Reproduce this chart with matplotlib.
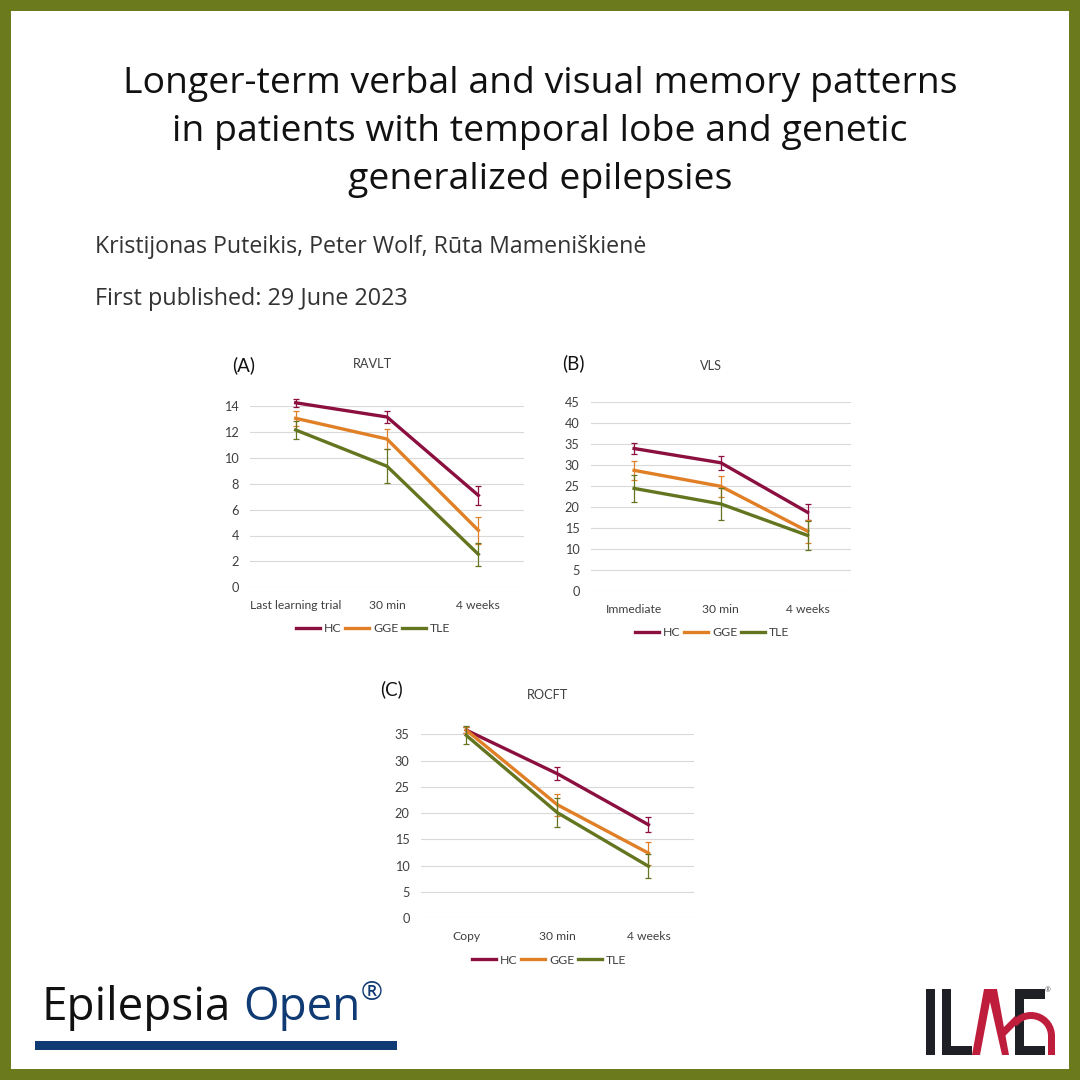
import matplotlib
matplotlib.use("Agg")
import matplotlib.pyplot as plt
from matplotlib.patches import Rectangle, Polygon, Wedge

# ---- data ----
series_names = ["HC", "GGE", "TLE"]
series_colors = ["#8B0F3F", "#E07F26", "#64751F"]

a_title = "RAVLT"
a_cats = ["Last learning trial", "30 min", "4 weeks"]
a_hc = [14.25, 13.15, 7.1]
a_gge = [13.05, 11.45, 4.4]
a_tle = [12.15, 9.35, 2.55]
a_hc_err = [0.3, 0.45, 0.72]
a_gge_err = [0.6, 0.8, 1.05]
a_tle_err = [0.7, 1.3, 0.9]
a_ticks = [0, 2, 4, 6, 8, 10, 12, 14]

b_title = "VLS"
b_cats = ["Immediate", "30 min", "4 weeks"]
b_hc = [34.0, 30.6, 18.8]
b_gge = [28.8, 25.0, 14.3]
b_tle = [24.5, 20.8, 13.3]
b_hc_err = [1.3, 1.7, 1.9]
b_gge_err = [2.2, 2.5, 2.7]
b_tle_err = [3.2, 3.9, 3.5]
b_ticks = [0, 5, 10, 15, 20, 25, 30, 35, 40, 45]

c_title = "ROCFT"
c_cats = ["Copy", "30 min", "4 weeks"]
c_hc = [35.8, 27.5, 17.8]
c_gge = [35.8, 21.6, 12.4]
c_tle = [34.8, 20.1, 9.9]
c_hc_err = [0.6, 1.2, 1.4]
c_gge_err = [0.6, 2.1, 2.2]
c_tle_err = [1.7, 2.8, 2.3]
c_ticks = [0, 5, 10, 15, 20, 25, 30, 35]

title_lines = ["Longer-term verbal and visual memory patterns",
               "in patients with temporal lobe and genetic",
               "generalized epilepsies"]
authors = "Kristijonas Puteikis, Peter Wolf, Rūta Mameniškienė"
published = "First published: 29 June 2023"

W = H = 1080
fig = plt.figure(figsize=(10.8, 10.8), dpi=100, facecolor="white")
page = fig.add_axes([0, 0, 1, 1], zorder=0)
page.set_xlim(0, W)
page.set_ylim(H, 0)
page.axis("off")

# frame
olive = "#6B7A1C"
for r in [(0, 0, W, 11), (0, 1069, W, 11), (0, 0, 11, H), (1069, 0, 11, H)]:
    page.add_patch(Rectangle((r[0], r[1]), r[2], r[3], fc=olive, ec="none"))

HEAD = "Open Sans"
for yy, line in zip([84, 132, 180], title_lines):
    page.text(540, yy, line, ha="center", va="center", fontsize=26.9, color="#111111", family=HEAD)
page.text(95, 247, authors, ha="left", va="center", fontsize=16.7, color="#333333", family=HEAD)
page.text(95, 299, published, ha="left", va="center", fontsize=16.8, color="#333333", family=HEAD)

FONT = "Lato"


def panel(box, title, title_xy, tag, tag_xy, cats, ys, errs, ticks, legend_xy):
    left, right, top, bottom = box
    ax = fig.add_axes([left / W, 1 - bottom / H, (right - left) / W, (bottom - top) / H],
                      facecolor="none", zorder=2)
    ax.set_xlim(-0.5, 2.5)
    ax.set_ylim(ticks[0], ticks[-1])
    ax.set_xticks(range(3))
    ax.set_xticklabels(cats, fontsize=8.7, color="#404040", family=FONT)
    ax.set_yticks(ticks)
    ax.set_yticklabels([str(t) for t in ticks], fontsize=9.2, color="#404040", family=FONT)
    ax.tick_params(length=0, axis="x", pad=9)
    ax.tick_params(length=0, axis="y", pad=8)
    ax.grid(axis="y", color="#D9D9D9", lw=0.8)
    ax.set_axisbelow(True)
    for s in ax.spines.values():
        s.set_visible(False)
    for name, col, y, e in zip(series_names, series_colors, ys, errs):
        ax.errorbar(range(3), y, yerr=e, fmt="none", ecolor=col, elinewidth=0.9,
                    capsize=2.0, capthick=0.9, clip_on=False)
        ax.plot(range(3), y, color=col, lw=2.4, label=name, clip_on=False,
                solid_joinstyle="round")
    ax.legend(loc="center", bbox_to_anchor=(legend_xy[0] / W, 1 - legend_xy[1] / H),
              bbox_transform=fig.transFigure, ncol=3, frameon=False,
              prop={"family": FONT, "size": 8.8}, handlelength=2.0,
              handletextpad=0.3, columnspacing=0.3, labelcolor="#404040")
    page.text(title_xy[0], title_xy[1], title, ha="center", va="center",
              fontsize=9.2, color="#404040", family=FONT)
    page.text(tag_xy[0], tag_xy[1], tag, ha="left", va="center",
              fontsize=13.5, color="#111111", family=FONT)
    return ax


panel((250, 524, 406, 587.3), a_title, (372, 364), "(A)", (232, 365), a_cats,
      [a_hc, a_gge, a_tle], [a_hc_err, a_gge_err, a_tle_err], a_ticks, (373, 629))
panel((590.7, 851, 402.3, 591.3), b_title, (711, 366), "(B)", (562, 363), b_cats,
      [b_hc, b_gge, b_tle], [b_hc_err, b_gge_err, b_tle_err], b_ticks, (712, 633))
panel((420.7, 694, 734.3, 918.3), c_title, (547, 695), "(C)", (380, 689), c_cats,
      [c_hc, c_gge, c_tle], [c_hc_err, c_gge_err, c_tle_err], c_ticks, (549, 960))

# journal logo
navy = "#0F3A73"
page.text(41, 1020, "Epilepsia", ha="left", va="baseline", fontsize=33, color="#111111", family=HEAD)
page.text(243, 1020, "Open", ha="left", va="baseline", fontsize=33, color=navy, family=HEAD)
page.text(372, 994, "®", ha="center", va="center", fontsize=19, color=navy, family=HEAD)
page.add_patch(Rectangle((35, 1041), 362, 9, fc=navy, ec="none"))

# society logo
dark = "#1E2026"
red = "#BE1E3C"
for r in [(926, 989, 9, 66), (942, 989, 9, 66), (942, 1046, 30, 9),
          (1015, 989, 9, 66), (1015, 989, 30, 10), (1015, 1046, 30, 9)]:
    page.add_patch(Rectangle((r[0], r[1]), r[2], r[3], fc=dark, ec="none"))
page.add_patch(Polygon([(972, 1055), (984, 989), (997, 989), (1009, 1055), (1002, 1055),
                        (990, 1002), (980, 1055)], fc=red, ec="none"))
page.add_patch(Polygon([(1001, 1030), (1015, 1016), (1019, 1022), (1004, 1037)], fc=red, ec="none"))
page.add_patch(Wedge((1031, 1036), 24, 215, 360, width=7, fc=red, ec="none"))
page.add_patch(Rectangle((1048, 1036), 7, 19, fc=red, ec="none"))
page.text(1048, 991, "®", fontsize=5, color="#555555", ha="center", va="center", family=HEAD)

fig.savefig("out.png", dpi=100, facecolor="white")
